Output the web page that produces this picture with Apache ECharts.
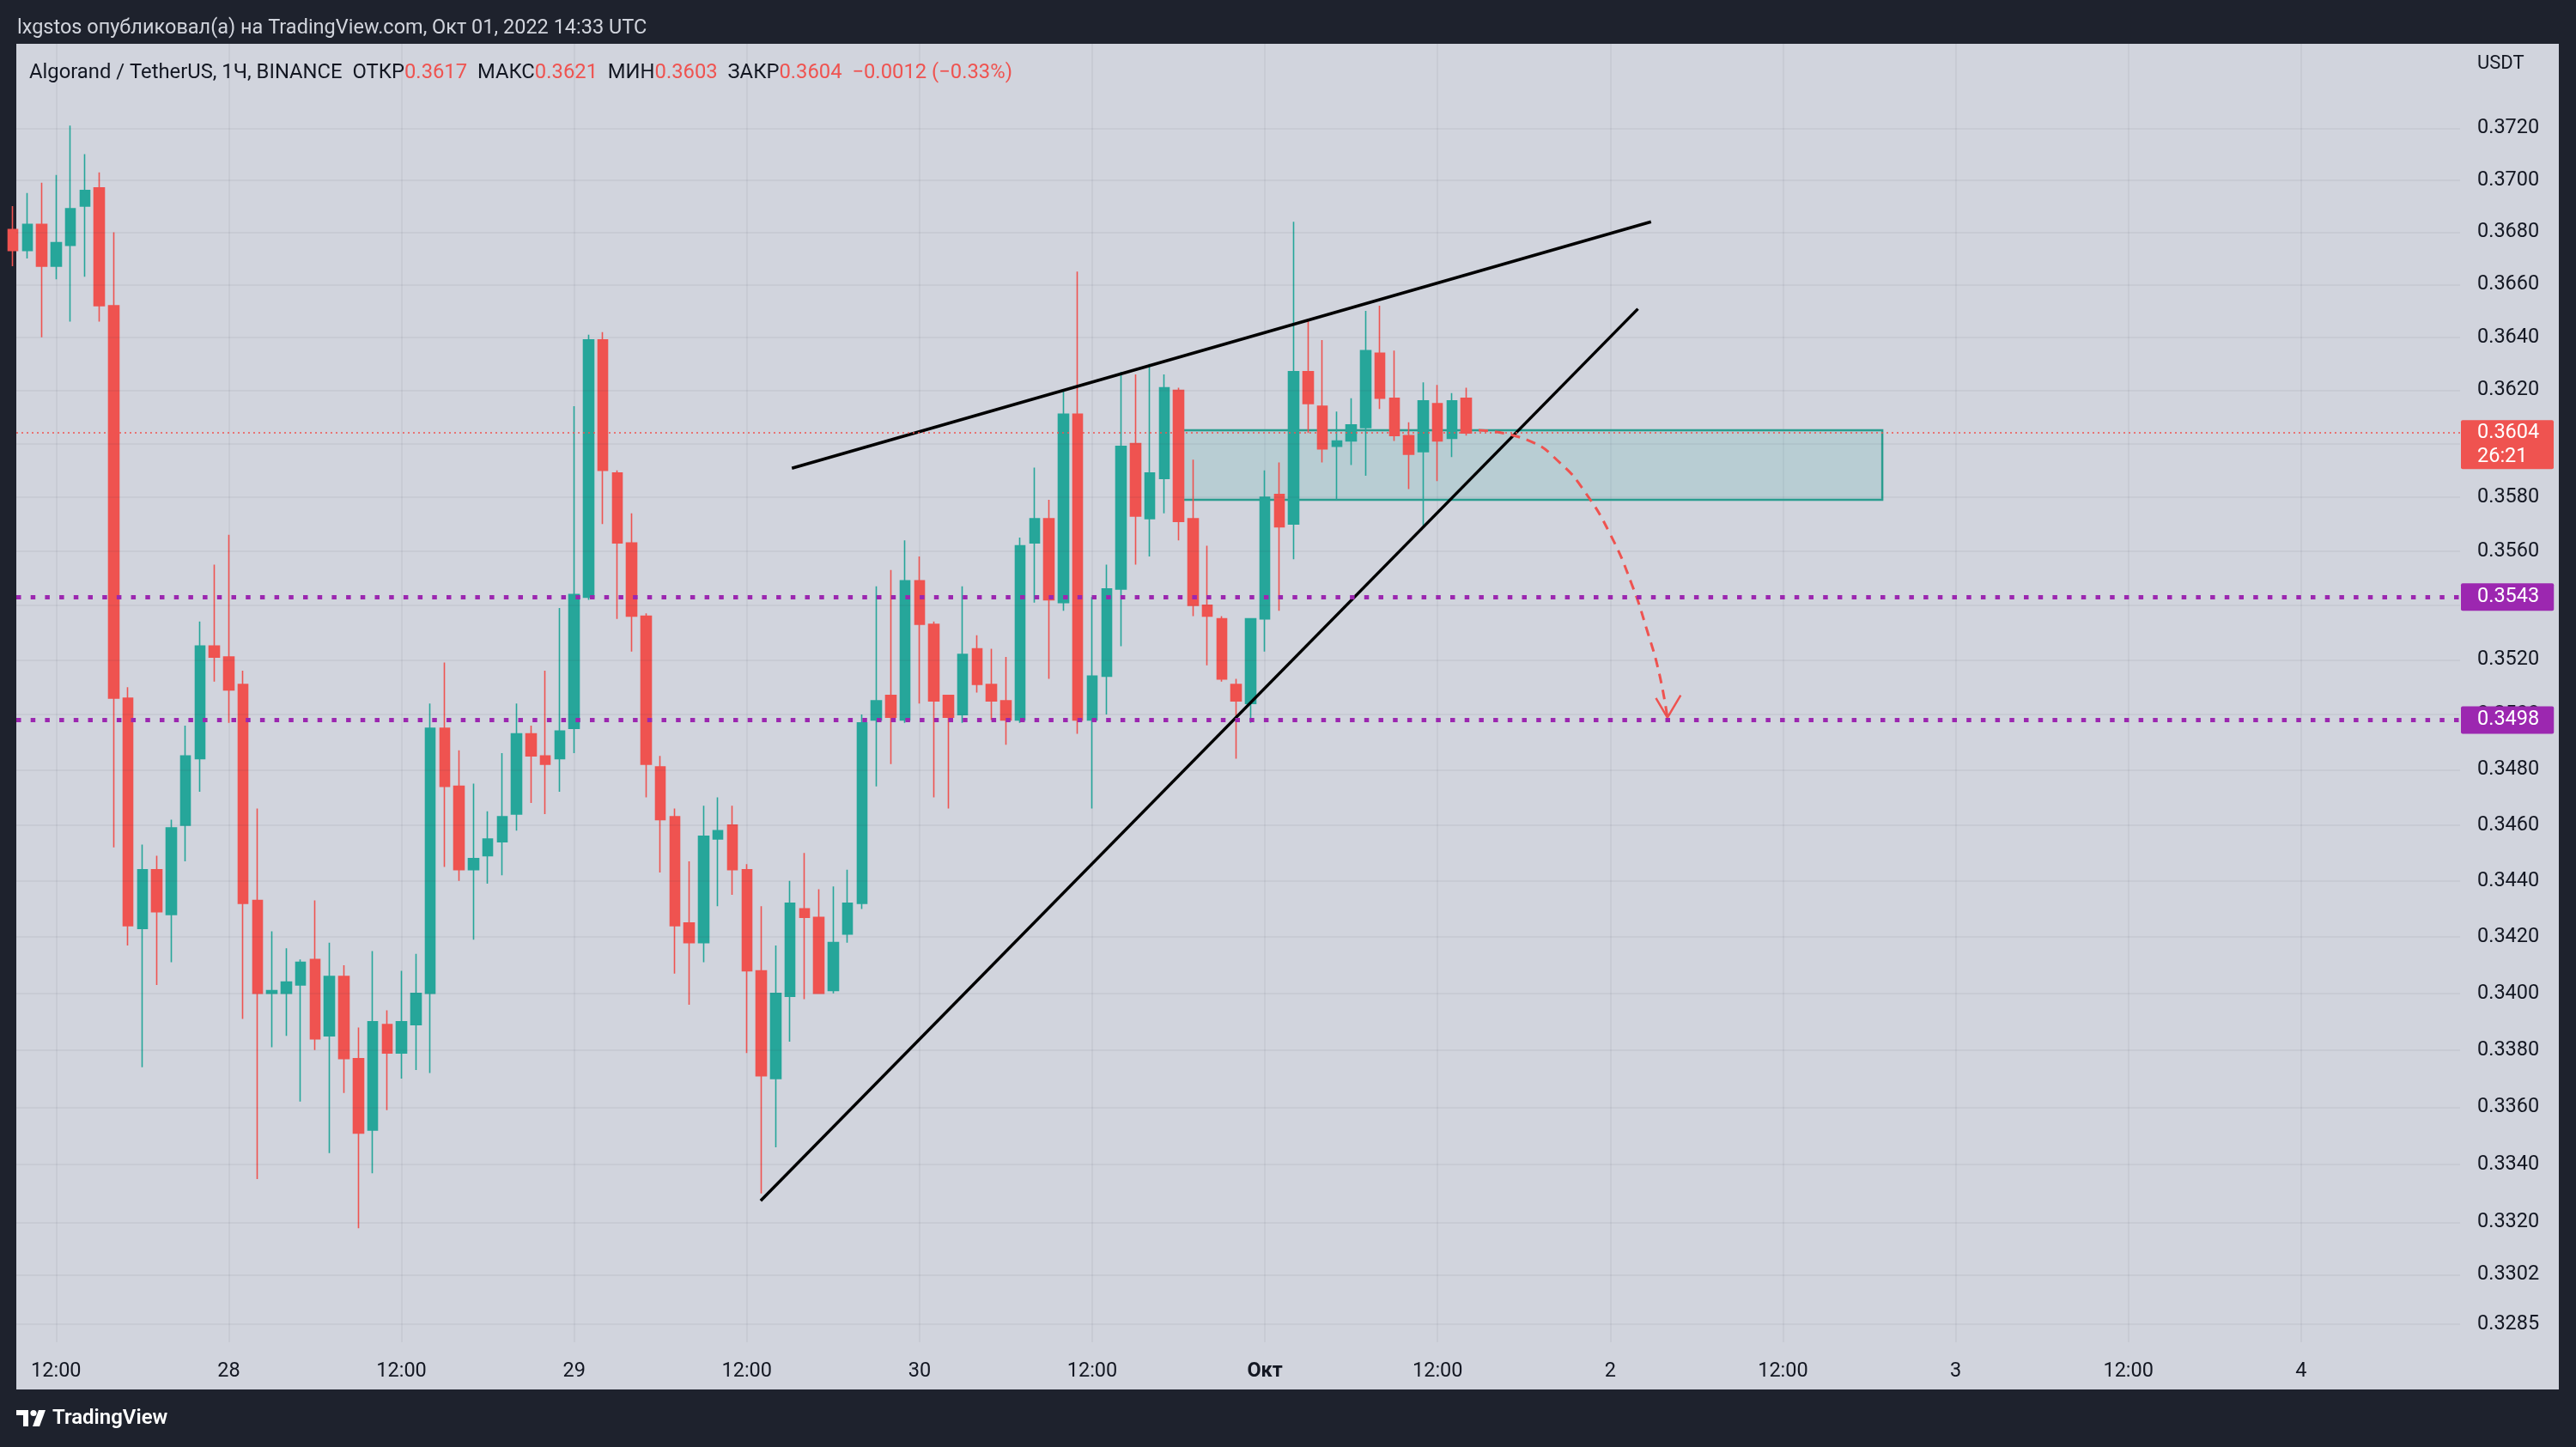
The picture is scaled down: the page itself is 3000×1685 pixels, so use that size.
<!DOCTYPE html>
<html>
<head>
<meta charset="utf-8">
<title>ALGOUSDT 1Ч</title>
<script src="https://cdn.jsdelivr.net/npm/echarts@6/dist/echarts.min.js"></script>
<style>
  html, body { margin: 0; padding: 0; background: #1e222d; }
  #chart { width: 3000px; height: 1685px; }
</style>
</head>
<body>
<div id="chart"></div>
<script>
// x = hours since 27 Sep 2022 00:00 UTC, one candle per hour
var hours = [9, 10, 11, 12, 13, 14, 15, 16, 17, 18,
  19, 20, 21, 22, 23, 24, 25, 26, 27, 28,
  29, 30, 31, 32, 33, 34, 35, 36, 37, 38,
  39, 40, 41, 42, 43, 44, 45, 46, 47, 48,
  49, 50, 51, 52, 53, 54, 55, 56, 57, 58,
  59, 60, 61, 62, 63, 64, 65, 66, 67, 68,
  69, 70, 71, 72, 73, 74, 75, 76, 77, 78,
  79, 80, 81, 82, 83, 84, 85, 86, 87, 88,
  89, 90, 91, 92, 93, 94, 95, 96, 97, 98,
  99, 100, 101, 102, 103, 104, 105, 106, 107, 108,
  109, 110]
var opens = [0.3681, 0.3673, 0.3683, 0.3667, 0.3675, 0.3690, 0.3697, 0.3652, 0.3506, 0.3423,
  0.3444, 0.3428, 0.3460, 0.3484, 0.3525, 0.3521, 0.3511, 0.3433, 0.3400, 0.3400,
  0.3403, 0.3412, 0.3385, 0.3406, 0.3377, 0.3352, 0.3389, 0.3379, 0.3389, 0.3400,
  0.3495, 0.3474, 0.3444, 0.3449, 0.3454, 0.3464, 0.3493, 0.3485, 0.3484, 0.3495,
  0.3543, 0.3639, 0.3589, 0.3563, 0.3536, 0.3481, 0.3463, 0.3425, 0.3418, 0.3455,
  0.3460, 0.3444, 0.3408, 0.3370, 0.3399, 0.3430, 0.3427, 0.3401, 0.3421, 0.3432,
  0.3498, 0.3507, 0.3498, 0.3549, 0.3533, 0.3507, 0.3500, 0.3524, 0.3511, 0.3505,
  0.3498, 0.3563, 0.3572, 0.3541, 0.3611, 0.3498, 0.3514, 0.3546, 0.3600, 0.3572,
  0.3587, 0.3620, 0.3572, 0.3540, 0.3535, 0.3511, 0.3504, 0.3535, 0.3581, 0.3570,
  0.3627, 0.3614, 0.3599, 0.3601, 0.3606, 0.3634, 0.3617, 0.3603, 0.3597, 0.3615,
  0.3602, 0.3617]
var closes = [0.3673, 0.3683, 0.3667, 0.3676, 0.3689, 0.3696, 0.3652, 0.3506, 0.3424, 0.3444,
  0.3429, 0.3459, 0.3485, 0.3525, 0.3521, 0.3509, 0.3432, 0.3400, 0.3401, 0.3404,
  0.3411, 0.3384, 0.3406, 0.3377, 0.3351, 0.3390, 0.3379, 0.3390, 0.3400, 0.3495,
  0.3474, 0.3444, 0.3448, 0.3455, 0.3463, 0.3493, 0.3485, 0.3482, 0.3494, 0.3544,
  0.3639, 0.3590, 0.3563, 0.3536, 0.3482, 0.3462, 0.3424, 0.3418, 0.3456, 0.3458,
  0.3444, 0.3408, 0.3371, 0.3400, 0.3432, 0.3427, 0.3400, 0.3418, 0.3432, 0.3497,
  0.3505, 0.3499, 0.3549, 0.3533, 0.3505, 0.3499, 0.3522, 0.3511, 0.3505, 0.3498,
  0.3562, 0.3572, 0.3542, 0.3611, 0.3498, 0.3514, 0.3546, 0.3599, 0.3573, 0.3589,
  0.3621, 0.3571, 0.3540, 0.3536, 0.3513, 0.3505, 0.3535, 0.3580, 0.3569, 0.3627,
  0.3615, 0.3598, 0.3601, 0.3607, 0.3635, 0.3617, 0.3603, 0.3596, 0.3616, 0.3601,
  0.3616, 0.3604]
var lows = [0.3667, 0.3670, 0.3640, 0.3662, 0.3646, 0.3663, 0.3646, 0.3452, 0.3417, 0.3374,
  0.3403, 0.3411, 0.3447, 0.3472, 0.3512, 0.3497, 0.3391, 0.3335, 0.3381, 0.3385,
  0.3362, 0.3380, 0.3344, 0.3365, 0.3318, 0.3337, 0.3359, 0.3370, 0.3373, 0.3372,
  0.3445, 0.3440, 0.3419, 0.3439, 0.3442, 0.3458, 0.3468, 0.3464, 0.3472, 0.3486,
  0.3542, 0.3570, 0.3535, 0.3523, 0.3470, 0.3443, 0.3407, 0.3396, 0.3411, 0.3431,
  0.3435, 0.3379, 0.3330, 0.3346, 0.3383, 0.3398, 0.3400, 0.3400, 0.3418, 0.3430,
  0.3474, 0.3482, 0.3497, 0.3504, 0.3470, 0.3466, 0.3497, 0.3508, 0.3498, 0.3489,
  0.3497, 0.3541, 0.3513, 0.3538, 0.3493, 0.3466, 0.3500, 0.3525, 0.3555, 0.3558,
  0.3574, 0.3564, 0.3536, 0.3518, 0.3512, 0.3484, 0.3497, 0.3523, 0.3538, 0.3557,
  0.3604, 0.3593, 0.3579, 0.3592, 0.3588, 0.3613, 0.3601, 0.3583, 0.3569, 0.3586,
  0.3595, 0.3603]
var highs = [0.3690, 0.3695, 0.3699, 0.3702, 0.3721, 0.3710, 0.3703, 0.3680, 0.3510, 0.3453,
  0.3449, 0.3462, 0.3496, 0.3534, 0.3555, 0.3566, 0.3516, 0.3466, 0.3422, 0.3416,
  0.3412, 0.3433, 0.3418, 0.3410, 0.3388, 0.3415, 0.3394, 0.3408, 0.3414, 0.3504,
  0.3519, 0.3487, 0.3475, 0.3465, 0.3486, 0.3504, 0.3496, 0.3516, 0.3539, 0.3614,
  0.3641, 0.3642, 0.3590, 0.3574, 0.3537, 0.3485, 0.3466, 0.3447, 0.3467, 0.3470,
  0.3467, 0.3446, 0.3431, 0.3417, 0.3440, 0.3450, 0.3437, 0.3438, 0.3444, 0.3500,
  0.3547, 0.3553, 0.3564, 0.3558, 0.3534, 0.3507, 0.3547, 0.3529, 0.3524, 0.3521,
  0.3565, 0.3591, 0.3579, 0.3620, 0.3665, 0.3543, 0.3555, 0.3627, 0.3626, 0.3630,
  0.3626, 0.3621, 0.3594, 0.3562, 0.3536, 0.3513, 0.3535, 0.3590, 0.3593, 0.3684,
  0.3647, 0.3639, 0.3612, 0.3617, 0.3650, 0.3652, 0.3635, 0.3608, 0.3623, 0.3622,
  0.3619, 0.3621]

// axis ticks
var xTickValues = [12, 24, 36, 48, 60, 72, 84, 96, 108, 120, 132, 144, 156, 168]
var xTickLabels = ['12:00', '28', '12:00', '29', '12:00', '30', '12:00', 'Окт', '12:00', '2', '12:00', '3', '12:00', '4']
var yTickValues = [0.3285, 0.3302, 0.3320, 0.3340, 0.3360, 0.3380, 0.3400, 0.3420, 0.3440, 0.3460,
  0.3480, 0.3500, 0.3520, 0.3540, 0.3560, 0.3580, 0.3600, 0.3620, 0.3640, 0.3660,
  0.3680, 0.3700, 0.3720]

// drawings on the chart (hour, price)
var levelValues = [0.3543, 0.3498]
var zoneCorners = [[90.3, 0.3605], [138.9, 0.3579]]
var wedgeUpper = [[63.13, 0.35908], [122.83, 0.36840]]
var wedgeLower = [[60.96, 0.33275], [121.92, 0.36508]]
var arrowPath = [[110.85, 0.3605], [114.27, 0.36013], [116.55, 0.35926], [118.27, 0.35817],
  [119.98, 0.35664], [121.46, 0.35482], [122.6, 0.3530], [123.4, 0.3515], [123.97, 0.34989]]
var arrowHead = [[123.17, 0.3506], [123.97, 0.34989], [124.89, 0.3507]]

var publisher = 'lxgstos опубликовал(а) на TradingView.com, Окт 01, 2022 14:33 UTC'
var symbolName = 'Algorand / TetherUS, 1Ч, BINANCE'
var countdown = '26:21'

var FONT = 'Roboto, "Noto Sans", sans-serif'
var UP = '#26a69a'
var DOWN = '#ef5350'
var PURPLE = '#9c27b0'
var GRIDC = 'rgba(42,46,57,0.07)'
var TEXT = '#131722'

var candles = hours.map(function (h, i) {
  return [h, opens[i], closes[i], lows[i], highs[i]]
})
var last = hours.length - 1
var lastClose = closes[last]
var chg = lastClose - closes[last - 1]
var chgPct = chg / closes[last - 1] * 100

function f4(v) { return v.toFixed(4) }
function signed(v, d) { return (v < 0 ? '\u2212' : '+') + Math.abs(v).toFixed(d) }

var chart = echarts.init(document.getElementById('chart'))

chart.setOption({
  backgroundColor: '#1e222d',
  animation: false,
  grid: { left: 19, right: 135, top: 51, bottom: 122 },
  xAxis: {
    type: 'value',
    min: 9.237,
    max: 179.05,
    axisLine: { show: false },
    axisTick: { show: false, customValues: xTickValues },
    splitLine: { show: true, lineStyle: { color: GRIDC, width: 1.5 } },
    axisLabel: {
      customValues: xTickValues,
      margin: 22,
      color: TEXT,
      fontSize: 23.5,
      fontFamily: FONT,
      formatter: function (v) {
        var s = xTickLabels[xTickValues.indexOf(Math.round(v))]
        return s === 'Окт' ? '{b|' + s + '}' : s
      },
      rich: { b: { fontWeight: 'bold', fontSize: 23.5, fontFamily: FONT, color: TEXT } }
    }
  },
  yAxis: {
    type: 'log',
    logBase: 10,
    position: 'right',
    min: 0.32789,
    max: 0.37528,
    axisLine: { show: false },
    axisTick: { show: false },
    axisLabel: { show: false },
    splitLine: { show: false }
  },
  series: [
    {
      // price scale labels and horizontal grid
      type: 'line',
      data: [],
      z: 1,
      silent: true,
      markLine: {
        silent: true,
        precision: 6,
        symbol: ['none', 'none'],
        animation: false,
        lineStyle: { color: GRIDC, width: 1.5, type: 'solid' },
        label: {
          position: 'end',
          distance: 20,
          color: TEXT,
          fontSize: 23.5,
          fontFamily: FONT,
          formatter: function (p) { return f4(p.value) }
        },
        emphasis: { disabled: true },
        data: yTickValues.map(function (v) { return { yAxis: v } })
      }
    },
    {
      type: 'candlestick',
      data: candles,
      encode: { x: 0, y: [1, 2, 3, 4] },
      barWidth: 12,
      z: 2,
      itemStyle: {
        color: UP,
        color0: DOWN,
        borderColor: UP,
        borderColor0: DOWN,
        borderWidth: 1.6
      },
      markArea: {
        silent: true,
        itemStyle: { color: 'rgba(38,166,154,0.14)', borderColor: '#2a9d8f', borderWidth: 2.5 },
        data: [[{ coord: zoneCorners[0] }, { coord: zoneCorners[1] }]]
      },
      markLine: {
        silent: true,
        precision: 6,
        symbol: ['none', 'none'],
        animation: false,
        emphasis: { disabled: true },
        data: [
          {
            yAxis: lastClose,
            lineStyle: { color: DOWN, width: 1.5, type: [2, 4] },
            label: { show: false }
          }
        ].concat(levelValues.map(function (v) {
          return {
            yAxis: v,
            lineStyle: { color: PURPLE, width: 5, type: [5.5, 11.2] },
            label: {
              position: 'end',
              distance: 1,
              formatter: f4(v),
              color: '#ffffff',
              fontSize: 23.5,
              fontFamily: FONT,
              backgroundColor: PURPLE,
              borderRadius: 2,
              padding: [4, 17, 4, 19]
            }
          }
        }))
      }
    },
    {
      type: 'line', data: wedgeUpper, symbol: 'none', z: 4, silent: true,
      lineStyle: { color: '#000000', width: 3.5 }
    },
    {
      type: 'line', data: wedgeLower, symbol: 'none', z: 4, silent: true,
      lineStyle: { color: '#000000', width: 3.5 }
    },
    {
      type: 'line', data: arrowPath, symbol: 'none', smooth: 0.5, z: 4, silent: true,
      lineStyle: { color: DOWN, width: 3, type: [11, 8] }
    },
    {
      type: 'line', data: arrowHead, symbol: 'none', z: 4, silent: true,
      lineStyle: { color: DOWN, width: 2.5 }
    }
  ],
  graphic: [
    { type: 'rect', id: 'panel', z: -100, silent: true,
      shape: { x: 19, y: 51, width: 2961, height: 1567 },
      style: { fill: '#d1d4dd' } },
    { type: 'text', id: 'pub', x: 20, y: 33, silent: true,
      style: { text: publisher, fill: '#d1d4dc', fontSize: 23.5, fontFamily: FONT, verticalAlign: 'middle' } },
    { type: 'text', id: 'legend', x: 34, y: 85, silent: true,
      style: {
        text: '{k|' + symbolName + '  ОТКР}{v|' + f4(opens[last]) + '}{k|  МАКС}{v|' + f4(highs[last]) +
          '}{k|  МИН}{v|' + f4(lows[last]) + '}{k|  ЗАКР}{v|' + f4(lastClose) + '}{v|  ' +
          signed(chg, 4) + ' (' + signed(chgPct, 2) + '%)}',
        verticalAlign: 'middle',
        rich: {
          k: { fill: TEXT, fontSize: 23.8, fontFamily: FONT },
          v: { fill: DOWN, fontSize: 23.8, fontFamily: FONT }
        }
      } },
    { type: 'text', id: 'usdt', x: 2885, y: 74, silent: true,
      style: { text: 'USDT', fill: TEXT, fontSize: 22, fontFamily: FONT, verticalAlign: 'middle' } },
    // TradingView logo
    { type: 'rect', id: 'logo1', silent: true, shape: { x: 19, y: 1642, width: 14, height: 6 }, style: { fill: '#ffffff' } },
    { type: 'rect', id: 'logo2', silent: true, shape: { x: 27, y: 1642, width: 6, height: 19 }, style: { fill: '#ffffff' } },
    { type: 'circle', id: 'logo3', silent: true, shape: { cx: 39, cy: 1645.5, r: 3.6 }, style: { fill: '#ffffff' } },
    { type: 'polygon', id: 'logo4', silent: true, shape: { points: [[45, 1642], [53, 1642], [46, 1661], [38, 1661]] }, style: { fill: '#ffffff' } },
    { type: 'text', id: 'tv', x: 61, y: 1652, silent: true,
      style: { text: 'TradingView', fill: '#ffffff', fontSize: 24, fontWeight: 600, fontFamily: FONT, verticalAlign: 'middle' } }
  ]
})

// current price tag with bar countdown, placed through the y scale
var yPx = chart.convertToPixel({ yAxisIndex: 0 }, lastClose)
chart.setOption({
  graphic: [
    { type: 'rect', id: 'tagbox', z: 10, silent: true,
      shape: { x: 2866, y: yPx - 15, width: 108, height: 57, r: 2 },
      style: { fill: DOWN } },
    { type: 'text', id: 'tagprice', z: 11, x: 2885, y: yPx, silent: true,
      style: { text: f4(lastClose), fill: '#ffffff', fontSize: 23.5, fontFamily: FONT, verticalAlign: 'middle' } },
    { type: 'text', id: 'tagtime', z: 11, x: 2885, y: yPx + 28, silent: true,
      style: { text: countdown, fill: '#ffffff', fontSize: 23.5, fontFamily: FONT, verticalAlign: 'middle' } }
  ]
})
</script>
</body>
</html>
